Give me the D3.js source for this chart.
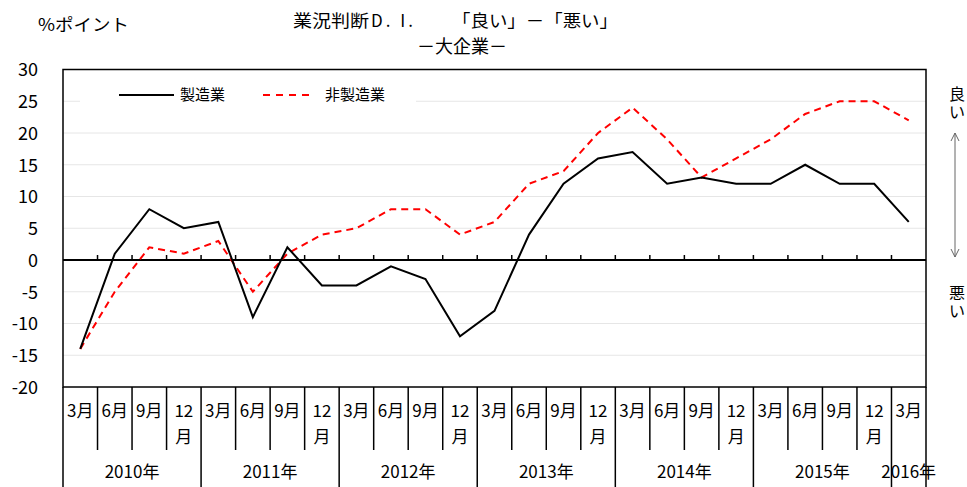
<!DOCTYPE html>
<html><head><meta charset="utf-8">
<script src="https://cdn.jsdelivr.net/npm/d3@7"></script>
<style>
html,body{margin:0;padding:0;background:#fff;}
svg{display:block;}
text{font-family:"Noto Sans CJK JP","Noto Sans",sans-serif;fill:#000;}
.num{font-family:"Liberation Sans Narrow","Noto Sans CJK JP",sans-serif;}
.side{font-family:"Liberation Sans","Noto Sans CJK JP",sans-serif;}
</style></head>
<body>
<script>
// ---- data ----
const categories = ["3月","6月","9月","12月","3月","6月","9月","12月","3月","6月","9月","12月","3月","6月","9月","12月","3月","6月","9月","12月","3月","6月","9月","12月","3月"];
const yearLabels = ["2010年","2011年","2012年","2013年","2014年","2015年","2016年"];
const yearCounts = [4,4,4,4,4,4,1];
const manufacturing = [-14,1,8,5, 6,-9,2,-4, -4,-1,-3,-12, -8,4,12,16, 17,12,13,12, 12,15,12,12, 6];
const nonManufacturing = [-14,-5,2,1, 3,-5,1,4, 5,8,8,4, 6,12,14,20, 24,19,13,16, 19,23,25,25, 22];
const yTicks = [30,25,20,15,10,5,0,-5,-10,-15,-20];
const seriesNames = ["製造業","非製造業"];
const titleKanji = "業況判断";
const titleDI = "D. I.";
const titleRight = "「良い」－「悪い」";
const titleLine2 = "－大企業－";
const yUnit = "%ポイント";
const goodLabel = ["良","い"];
const badLabel = ["悪","い"];

// ---- layout ----
const W = 967, H = 487;
const L = 63, R = 926, T = 69.5, B = 387;
const svg = d3.select("body").append("svg").attr("width", W).attr("height", H);

const x = d3.scaleBand().domain(d3.range(categories.length)).range([L, R]).padding(0);
const y = d3.scaleLinear().domain([-20, 30]).range([B, T]);
const cx = i => x(i) + x.bandwidth() / 2;

// gridlines
svg.append("g").selectAll("line").data(yTicks.filter(d => d !== 0 && d !== 30 && d !== -20))
  .join("line").attr("x1", L).attr("x2", R).attr("y1", d => y(d)).attr("y2", d => y(d))
  .attr("stroke", "#e6e6e6").attr("stroke-width", 1);

// y axis labels
const yAxis = d3.axisLeft(y).tickValues(yTicks).tickSize(0).tickPadding(0)
  .tickFormat(d => d < 0 ? "-" + Math.abs(d) : String(d));
const gy = svg.append("g").attr("transform", `translate(${38},0)`).call(yAxis);
gy.select(".domain").remove();
gy.selectAll("text").attr("class", "num").attr("font-size", 18).attr("fill", "#000").attr("dy", "0.35em");

// legend box (covers gridlines)
svg.append("rect").attr("x", 80).attr("y", 82).attr("width", 336).attr("height", 28).attr("fill", "#fff");

// zero line and ticks
svg.append("line").attr("x1", L).attr("x2", R).attr("y1", y(0)).attr("y2", y(0))
  .attr("stroke", "#000").attr("stroke-width", 2);
svg.append("g").selectAll("line").data(d3.range(1, categories.length))
  .join("line").attr("x1", i => x(i)).attr("x2", i => x(i)).attr("y1", y(0)).attr("y2", y(0) - 5)
  .attr("stroke", "#000").attr("stroke-width", 1.5);

// lines
const line = arr => d3.line().x((d, i) => cx(i)).y(d => y(d))(arr);
svg.append("path").attr("d", line(nonManufacturing)).attr("fill", "none")
  .attr("stroke", "#ff0000").attr("stroke-width", 2).attr("stroke-dasharray", "7,5");
svg.append("path").attr("d", line(manufacturing)).attr("fill", "none")
  .attr("stroke", "#000").attr("stroke-width", 2);

// plot border
svg.append("rect").attr("x", L).attr("y", T).attr("width", R - L).attr("height", B - T)
  .attr("fill", "none").attr("stroke", "#000").attr("stroke-width", 1.5);

// legend
const lg = svg.append("g");
lg.append("line").attr("x1", 119).attr("x2", 174).attr("y1", 95).attr("y2", 95).attr("stroke", "#000").attr("stroke-width", 2);
lg.append("text").attr("x", 180).attr("y", 95).attr("dy", "0.35em").attr("font-size", 15).text(seriesNames[0]);
lg.append("line").attr("x1", 263).attr("x2", 312).attr("y1", 95).attr("y2", 95).attr("stroke", "#ff0000").attr("stroke-width", 2).attr("stroke-dasharray", "7,6");
lg.append("text").attr("x", 325).attr("y", 95).attr("dy", "0.35em").attr("font-size", 15).text(seriesNames[1]);

// x axis categories
const gx = svg.append("g");
let yearStarts = [];
let acc = 0;
yearCounts.forEach(c => { yearStarts.push(acc); acc += c; });
gx.selectAll("line.cell").data(d3.range(categories.length + 1)).join("line")
  .attr("x1", i => i === categories.length ? R : x(i))
  .attr("x2", i => i === categories.length ? R : x(i))
  .attr("y1", B)
  .attr("y2", i => (yearStarts.includes(i) || i === categories.length) ? H : 450)
  .attr("stroke", "#000").attr("stroke-width", 1.5);

categories.forEach((c, i) => {
  if (c.length > 2) {
    gx.append("text").attr("x", cx(i)).attr("y", 411).attr("dy", "0.35em").attr("text-anchor", "middle")
      .attr("font-size", 17).text(c.slice(0, c.length - 1));
    gx.append("text").attr("x", cx(i)).attr("y", 437).attr("dy", "0.35em").attr("text-anchor", "middle")
      .attr("font-size", 17).text(c.slice(-1));
  } else {
    gx.append("text").attr("x", cx(i)).attr("y", 411).attr("dy", "0.35em").attr("text-anchor", "middle")
      .attr("font-size", 17).text(c);
  }
});
yearLabels.forEach((yl, k) => {
  const s = yearStarts[k], e = s + yearCounts[k];
  const mid = (x(s) + (e >= categories.length ? R : x(e))) / 2;
  gx.append("text").attr("x", mid).attr("y", 472).attr("dy", "0.35em").attr("text-anchor", "middle")
    .attr("font-size", 17).text(yl);
});

// titles
svg.append("text").attr("x", 293).attr("y", 21).attr("dy", "0.35em").attr("font-size", 17)
  .attr("textLength", 76).attr("lengthAdjust", "spacingAndGlyphs").text(titleKanji);
svg.append("text").attr("x", 371).attr("y", 21).attr("dy", "0.35em").attr("font-size", 17)
  .attr("textLength", 42).attr("lengthAdjust", "spacing").text(titleDI);
svg.append("text").attr("x", 452).attr("y", 21).attr("dy", "0.35em").attr("font-size", 17)
  .attr("textLength", 166).attr("lengthAdjust", "spacingAndGlyphs").text(titleRight);
svg.append("text").attr("x", 462).attr("y", 47).attr("dy", "0.35em").attr("text-anchor", "middle").attr("font-size", 18).text(titleLine2);
svg.append("text").attr("x", 38).attr("y", 25).attr("dy", "0.35em").attr("font-size", 17)
  .attr("textLength", 91).attr("lengthAdjust", "spacingAndGlyphs").text(yUnit);

// right side labels (stacked characters)
[[goodLabel, 94], [badLabel, 293]].forEach(([chars, yy]) => {
  chars.forEach((ch, j) => {
    svg.append("text").attr("class", "side").attr("x", 957).attr("y", yy + j * 18).attr("dy", "0.35em")
      .attr("text-anchor", "middle").attr("font-size", 16).text(ch);
  });
});
const ag = svg.append("g").attr("stroke", "#666").attr("stroke-width", 1).attr("fill", "none");
ag.append("line").attr("x1", 955).attr("x2", 955).attr("y1", 133).attr("y2", 257);
ag.append("path").attr("d", "M951,141 L955,133 L959,141");
ag.append("path").attr("d", "M951,249 L955,257 L959,249");
</script>
</body></html>
